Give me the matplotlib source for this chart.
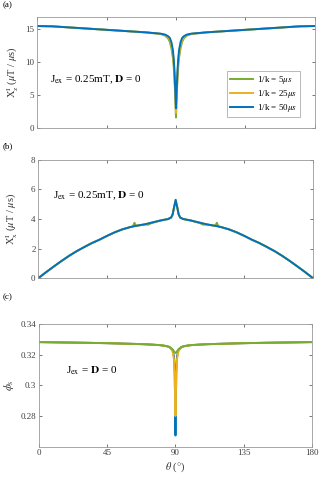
import matplotlib
matplotlib.use("Agg")
import matplotlib.pyplot as plt

plt.rcParams['font.family'] = ['Liberation Serif', 'DejaVu Serif']
plt.rcParams['mathtext.fontset'] = 'stix'

green = '#77AC30'
orange = '#EDB120'
blue = '#0072BD'

# panel (a): X_z^I vs theta
theta_a = [0, 10, 20, 30, 40, 50, 60, 70, 80, 83, 85, 86, 87, 88, 88.5, 89, 89.5, 90,
           90.5, 91, 91.5, 92, 93, 94, 95, 97, 100, 110, 120, 130, 140, 150, 160, 170, 180]
xz_5 = [15.4, 15.35, 15.2, 15.05, 14.9, 14.75, 14.6, 14.45, 14.2, 13.95, 13.5, 13.0, 12.1, 10.6, 9.4, 7.6, 4.9, 1.6,
        4.9, 7.6, 9.4, 10.6, 12.1, 13.0, 13.5, 13.95, 14.2, 14.45, 14.6, 14.75, 14.9, 15.05, 15.2, 15.35, 15.4]
xz_25 = [15.4, 15.35, 15.2, 15.05, 14.9, 14.75, 14.6, 14.45, 14.22, 14.05, 13.7, 13.3, 12.6, 11.2, 10.0, 8.2, 5.4, 2.3,
         5.4, 8.2, 10.0, 11.2, 12.6, 13.3, 13.7, 14.05, 14.22, 14.45, 14.6, 14.75, 14.9, 15.05, 15.2, 15.35, 15.4]
xz_50 = [15.4, 15.35, 15.2, 15.05, 14.9, 14.75, 14.6, 14.45, 14.25, 14.1, 13.85, 13.6, 13.0, 11.8, 10.6, 8.8, 6.0, 3.0,
         6.0, 8.8, 10.6, 11.8, 13.0, 13.6, 13.85, 14.1, 14.25, 14.45, 14.6, 14.75, 14.9, 15.05, 15.2, 15.35, 15.4]

# panel (b): X_x^I vs theta
theta_b = [0, 5, 10, 15, 20, 25, 30, 35, 40, 45, 50, 55, 60, 62, 63, 64, 70, 72, 74, 80, 85, 87, 88, 89, 90,
           91, 92, 93, 95, 100, 106, 108, 110, 116, 117, 118, 120, 125, 130, 135, 140, 145, 150, 155, 160,
           165, 170, 175, 180]
xx_5 = [0, 0.4, 0.78, 1.15, 1.5, 1.82, 2.1, 2.37, 2.6, 2.86, 3.1, 3.3, 3.45, 3.5, 3.75, 3.54, 3.63, 3.62, 3.72,
        3.9, 4.0, 4.1, 4.3, 4.85, 5.2,
        4.85, 4.3, 4.1, 4.0, 3.9, 3.72, 3.62, 3.63, 3.54, 3.75, 3.5, 3.45, 3.3, 3.1, 2.86, 2.6, 2.37, 2.1,
        1.82, 1.5, 1.15, 0.78, 0.4, 0]
xx_25 = [0, 0.4, 0.78, 1.15, 1.5, 1.82, 2.1, 2.37, 2.6, 2.86, 3.1, 3.3, 3.45, 3.5, 3.52, 3.54, 3.65, 3.7, 3.75,
         3.9, 4.0, 4.1, 4.3, 4.8, 5.3,
         4.8, 4.3, 4.1, 4.0, 3.9, 3.75, 3.7, 3.65, 3.54, 3.52, 3.5, 3.45, 3.3, 3.1, 2.86, 2.6, 2.37, 2.1,
         1.82, 1.5, 1.15, 0.78, 0.4, 0]
xx_50 = [0, 0.4, 0.78, 1.15, 1.5, 1.82, 2.1, 2.37, 2.6, 2.86, 3.1, 3.3, 3.45, 3.5, 3.52, 3.54, 3.65, 3.7, 3.75,
         3.9, 4.0, 4.1, 4.3, 4.8, 5.3,
         4.8, 4.3, 4.1, 4.0, 3.9, 3.75, 3.7, 3.65, 3.54, 3.52, 3.5, 3.45, 3.3, 3.1, 2.86, 2.6, 2.37, 2.1,
         1.82, 1.5, 1.15, 0.78, 0.4, 0]

# panel (c): phi_s vs theta
theta_c = [0, 20, 45, 70, 80, 84, 86, 88, 89, 89.5, 90, 90.5, 91, 92, 94, 96, 100, 110, 135, 160, 180]
phi_5 = [0.3282, 0.3279, 0.3275, 0.3268, 0.3262, 0.3256, 0.3250, 0.3236, 0.3222, 0.3214, 0.3211,
         0.3214, 0.3222, 0.3236, 0.3250, 0.3256, 0.3262, 0.3268, 0.3275, 0.3279, 0.3282]
phi_25 = [0.3282, 0.3279, 0.3275, 0.3268, 0.3262, 0.3256, 0.3250, 0.3225, 0.317, 0.305, 0.280,
          0.305, 0.317, 0.3225, 0.3250, 0.3256, 0.3262, 0.3268, 0.3275, 0.3279, 0.3282]
phi_50 = [0.3282, 0.3279, 0.3275, 0.3268, 0.3262, 0.3256, 0.3250, 0.3230, 0.319, 0.309, 0.2673,
          0.309, 0.319, 0.3230, 0.3250, 0.3256, 0.3262, 0.3268, 0.3275, 0.3279, 0.3282]

labels = [r'1/k = 5$\mu s$', r'1/k = 25$\mu s$', r'1/k = 50$\mu s$']
xticks = [0, 45, 90, 135, 180]

fig = plt.figure(figsize=(3.22, 4.78), dpi=100)
ax1 = fig.add_axes([0.115, 0.732, 0.863, 0.233])
ax2 = fig.add_axes([0.119, 0.418, 0.853, 0.2475])
ax3 = fig.add_axes([0.121, 0.0655, 0.848, 0.2567])

lw = 1.4
ax1.plot(theta_a, xz_5, color=green, lw=lw, label=labels[0])
ax1.plot(theta_a, xz_25, color=orange, lw=lw, label=labels[1])
ax1.plot(theta_a, xz_50, color=blue, lw=lw, label=labels[2])
ax1.set_ylim(0, 16.8)
ax1.set_yticks([0, 5, 10, 15])

ax2.plot(theta_b, xx_5, color=green, lw=lw)
ax2.plot(theta_b, xx_25, color=orange, lw=lw)
ax2.plot(theta_b, xx_50, color=blue, lw=lw)
ax2.set_ylim(0, 8)
ax2.set_yticks([0, 2, 4, 6, 8])

ax3.plot(theta_c, phi_50, color=blue, lw=lw)
ax3.plot(theta_c, phi_25, color=orange, lw=lw)
ax3.plot(theta_c, phi_5, color=green, lw=lw)
ax3.set_ylim(0.26, 0.34)
ax3.set_yticks([0.28, 0.30, 0.32, 0.34])
ax3.set_yticklabels(['0.28', '0.3', '0.32', '0.34'])

for ax in (ax1, ax2, ax3):
    ax.set_xlim(0, 180)
    ax.set_xticks(xticks)
    ax.tick_params(direction='in', top=True, right=True, length=2.5, width=0.5,
                   labelsize=6.5, colors='0.25', pad=2)
    for s in ax.spines.values():
        s.set_color('0.6')
        s.set_linewidth(0.6)
ax1.set_xticklabels([])
ax2.set_xticklabels([])

ax1.set_ylabel(r'X$^{\rm I}_{\rm z}$ ($\mu$T / $\mu$s)', fontsize=7.5, color='0.2')
ax1.yaxis.set_label_coords(-0.058, 0.5)
ax2.set_ylabel(r'X$^{\rm I}_{\rm x}$ ($\mu$T / $\mu$s)', fontsize=7.5, color='0.2')
ax2.yaxis.set_label_coords(-0.067, 0.5)
ax3.set_ylabel(r'$\phi_{\rm s}$', fontsize=8, color='0.2')
ax3.yaxis.set_label_coords(-0.085, 0.5)
ax3.set_xlabel(r'$\theta$ ($\degree$)', fontsize=7.5, color='0.2', labelpad=2)

ax1.text(0.047, 0.43, r'J$_{\rm ex}$ = 0.25mT, $\mathbf{D}$ = 0', transform=ax1.transAxes,
         fontsize=8, va='center', ha='left')
ax2.text(0.055, 0.70, r'J$_{\rm ex}$ = 0.25mT, $\mathbf{D}$ = 0', transform=ax2.transAxes,
         fontsize=8, va='center', ha='left')
ax3.text(0.10, 0.62, r'J$_{\rm ex}$ = $\mathbf{D}$ = 0', transform=ax3.transAxes,
         fontsize=8, va='center', ha='left')

leg = ax1.legend(loc='lower right', bbox_to_anchor=(0.946, 0.10), borderaxespad=0,
                 fontsize=6.5, fancybox=False, handlelength=2.6, handletextpad=0.4,
                 borderpad=0.3, labelspacing=0.25)
leg.get_frame().set_edgecolor('0.6')
leg.get_frame().set_linewidth(0.6)

fig.text(3 / 322, 1 - 5 / 478, '(a)', fontsize=6.5, va='center', ha='left')
fig.text(3 / 322, 1 - 146 / 478, '(b)', fontsize=6.5, va='center', ha='left')
fig.text(3 / 322, 1 - 297 / 478, '(c)', fontsize=6.5, va='center', ha='left')

fig.savefig('out.png', dpi=100)
